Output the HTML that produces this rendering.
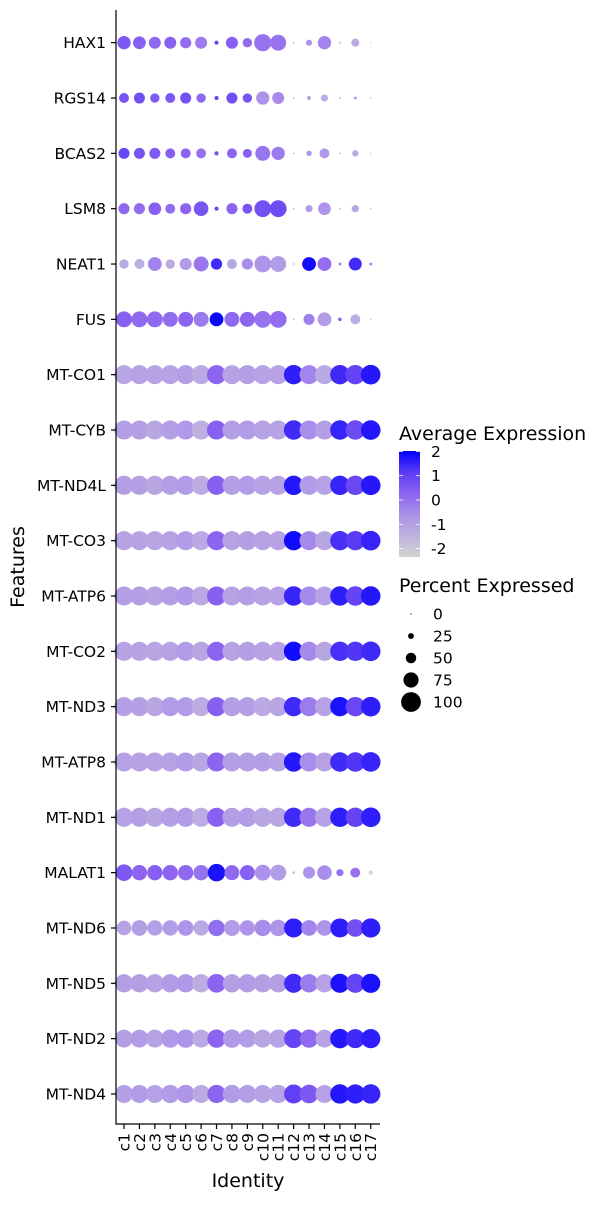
<!DOCTYPE html>
<html><head><meta charset="utf-8"><style>
body{margin:0;background:#fff}
svg text{font-family:"DejaVu Sans","Liberation Sans",sans-serif}
</style></head><body>
<svg id="chart" width="600" height="1200" viewBox="0 0 600 1200" xmlns="http://www.w3.org/2000/svg">
<defs><linearGradient id="cg" x1="0" y1="1" x2="0" y2="0">
<stop offset="0" stop-color="#d3d3d3"/><stop offset="0.4" stop-color="#aa91e8"/><stop offset="0.6" stop-color="#8c64f0"/><stop offset="0.8" stop-color="#5a3cf5"/><stop offset="1" stop-color="#0000ff"/></linearGradient></defs>
<g id="dots"></g>
<line x1="116" y1="10" x2="116" y2="1124.5" stroke="#000" stroke-width="1.2"/>
<line x1="115.5" y1="1124" x2="380" y2="1124" stroke="#000" stroke-width="1.2"/>
<g id="yticks"></g>
<g id="xticks"></g>
<text transform="translate(24,567) rotate(-90)" text-anchor="middle" font-size="19">Features</text>
<text x="248" y="1187" text-anchor="middle" font-size="19">Identity</text>
<g>
<text x="399" y="440" font-size="19">Average Expression</text>
<rect x="399" y="451" width="21" height="106" fill="url(#cg)"/>
<g id="cticks"></g>
</g>
<g>
<text x="399" y="592" font-size="19">Percent Expressed</text>
<g id="sizes"></g>
</g>
</svg>
<script>
const features=["HAX1","RGS14","BCAS2","LSM8","NEAT1","FUS","MT-CO1","MT-CYB","MT-ND4L","MT-CO3","MT-ATP6","MT-CO2","MT-ND3","MT-ATP8","MT-ND1","MALAT1","MT-ND6","MT-ND5","MT-ND2","MT-ND4"];
const clusters=["c1","c2","c3","c4","c5","c6","c7","c8","c9","c10","c11","c12","c13","c14","c15","c16","c17"];
const pctExpr=[
[65,62,58,58,54,58,16,58,44,86,79,2,26,65,2,37,0],
[47,53,44,47,53,44,16,53,44,65,58,2,16,32,2,10,0],
[53,53,53,47,47,47,16,47,42,74,65,2,23,47,2,28,0],
[53,53,62,47,54,72,16,53,47,84,84,2,32,62,2,33,0],
[44,47,68,44,58,74,54,47,54,84,79,2,68,68,10,63,9],
[79,79,79,74,74,74,68,74,74,84,84,2,53,68,12,47,0],
[96,96,96,96,96,96,96,96,96,96,96,98,96,96,98,98,99],
[96,96,96,96,96,96,96,96,96,96,96,98,96,96,98,98,99],
[96,96,96,96,96,96,96,96,96,96,96,98,96,96,98,98,99],
[96,96,96,96,96,96,96,96,96,96,96,98,96,96,98,98,99],
[96,96,96,96,96,96,96,96,96,96,96,98,96,96,98,98,99],
[96,96,96,96,96,96,96,96,96,96,96,98,96,96,98,98,99],
[96,96,96,96,96,96,96,96,96,96,96,98,96,96,98,98,99],
[96,96,96,96,96,96,96,96,96,96,96,98,96,96,98,98,99],
[96,96,96,96,96,96,96,96,96,96,96,98,96,96,98,98,99],
[83,76,76,76,76,76,88,74,74,79,79,9,58,72,32,47,16],
[72,78,76,76,78,76,82,80,76,82,82,96,78,78,96,88,97],
[92,92,92,92,92,92,94,92,92,92,92,96,92,92,96,96,97],
[90,90,90,92,92,90,92,92,90,90,92,96,92,90,98,96,97],
[90,90,90,92,92,90,92,92,90,90,92,96,94,90,98,97,98]];
const avgExpr=[
[0.8,0.6,0.4,0.6,0.3,0.0,1.2,0.6,0.4,0.2,0.2,-1,-0.5,-0.2,-0.5,-1.2,-1.5],
[0.9,1.0,0.7,0.8,1.0,0.4,1.3,1.0,0.9,-0.5,-0.3,-1,-1,-1.2,-0.5,-1,-1],
[1.2,0.9,0.8,0.6,0.5,0.2,1.0,0.5,0.6,0.1,0.0,-1,-0.6,-0.7,-1,-1.3,-1.5],
[0.4,0.3,0.6,0.3,0.5,0.9,1.2,0.5,0.9,1.0,1.1,-1,-0.8,-0.6,-1,-1.2,-1.2],
[-1.2,-1.3,-0.2,-1.2,-0.8,0.1,1.8,-1.1,-0.4,-0.6,-0.8,-1,2.3,0.3,-0.2,1.8,-0.2],
[0.6,0.4,0.4,0.3,0.5,0.0,2.4,0.4,0.5,0.2,0.3,-1,-0.1,-0.8,0.8,-1.3,-1.5],
[-1.1,-1.0,-1.0,-1.0,-0.9,-1.2,0.5,-1.0,-0.9,-1.0,-1.0,2.0,-0.2,-1.2,1.8,1.3,2.1],
[-0.9,-0.9,-1.1,-0.9,-0.7,-1.4,0.6,-0.9,-0.8,-1.0,-1.0,1.8,-0.4,-0.9,1.9,1.1,2.1],
[-0.9,-0.9,-1.1,-0.9,-0.8,-1.3,0.6,-0.9,-0.8,-1.0,-1.0,2.1,-0.8,-1.0,1.9,1.2,2.1],
[-1.0,-1.0,-1.1,-1.0,-0.8,-1.2,0.5,-1.0,-0.9,-1.0,-1.0,2.3,-0.3,-1.1,1.7,1.5,1.9],
[-0.9,-0.9,-1.0,-0.9,-0.7,-1.2,0.6,-1.0,-0.9,-1.0,-1.0,1.9,-0.3,-1.0,2.0,1.3,2.1],
[-1.0,-1.0,-1.1,-1.0,-0.8,-1.1,0.5,-1.0,-0.9,-1.0,-1.0,2.3,-0.3,-1.1,1.7,1.6,1.8],
[-0.9,-0.9,-1.1,-0.8,-0.8,-1.3,0.6,-0.9,-0.9,-1.2,-1.1,1.8,0.0,-1.0,2.2,1.2,2.0],
[-1.0,-1.0,-1.0,-1.0,-0.8,-1.1,0.5,-0.9,-0.9,-0.9,-1.0,2.1,-0.4,-1.0,1.8,1.6,1.9],
[-1.0,-0.9,-1.1,-0.9,-0.8,-1.3,0.6,-0.9,-0.8,-1.1,-1.1,1.8,0.1,-1.0,2.0,1.3,2.0],
[0.8,0.5,0.6,0.5,0.4,0.2,2.2,0.4,0.6,-0.5,-0.8,-2.2,-0.6,-0.4,0.2,0.2,-2.5],
[-1.0,-0.9,-0.9,-0.8,-0.6,-1.2,0.3,-0.8,-0.6,-0.4,-0.6,2.0,-0.2,-0.6,2.0,1.0,2.0],
[-0.9,-0.9,-1.0,-0.8,-0.7,-1.3,0.5,-0.9,-0.8,-0.9,-0.9,1.8,0.0,-1.0,2.2,1.3,2.2],
[-0.9,-0.8,-1.0,-0.7,-0.6,-1.2,0.5,-0.7,-0.8,-1.1,-1.0,1.3,0.4,-1.0,2.1,1.8,2.0],
[-0.9,-0.8,-1.0,-0.8,-0.6,-1.2,0.5,-0.8,-0.9,-1.0,-1.0,1.4,0.8,-1.0,2.1,2.0,1.9]];
const colorTicks=[2,1,0,-1,-2];
const sizeTicks=[0,25,50,75,100];
const NS="http://www.w3.org/2000/svg";
function xPos(i){return 124+i*15.42;}
function yPos(j){return 42.7+j*55.33;}
function rad(p){return 0.6+p*0.093;}
function cy(v){return 500-v*24.3;}
const stops=[[0,[211,211,211]],[0.4,[172,146,234]],[0.6,[140,100,240]],[0.8,[90,60,245]],[1,[0,0,255]]];
function col(v){let t=(Math.max(-2.5,Math.min(2.5,v))+2.5)/5;
 for(let k=1;k<stops.length;k++){if(t<=stops[k][0]){const a=stops[k-1],b=stops[k];const u=(t-a[0])/(b[0]-a[0]);
 return 'rgb('+a[1].map((c,i)=>Math.round(c+(b[1][i]-c)*u)).join(',')+')';}}return 'rgb(0,0,255)';}
function mk(tag,attrs,parent,txt){const e=document.createElementNS(NS,tag);for(const k in attrs)e.setAttribute(k,attrs[k]);if(txt!==undefined)e.textContent=txt;parent.appendChild(e);return e;}
const dots=document.getElementById('dots');
features.forEach((f,j)=>{clusters.forEach((c,i)=>{
 const e=mk('circle',{cx:xPos(i),cy:yPos(j),r:rad(pctExpr[j][i]),fill:col(avgExpr[j][i])},dots);
 
 
});});
const yt=document.getElementById('yticks');
features.forEach((f,j)=>{
 const l=mk('line',{x1:111,x2:116,y1:yPos(j),y2:yPos(j),stroke:'#000','stroke-width':1.2},yt);
 
 
 const t=mk('text',{x:106,y:yPos(j)+5.5,'text-anchor':'end','font-size':15.5},yt,f);
 
 
});
const xt=document.getElementById('xticks');
clusters.forEach((c,i)=>{
 const l=mk('line',{x1:xPos(i),x2:xPos(i),y1:1124,y2:1129,stroke:'#000','stroke-width':1.2},xt);
 
 
 const t=mk('text',{transform:'translate('+(xPos(i)+5.5)+',1133) rotate(-90)','text-anchor':'end','font-size':15.5},xt,c);
 
 
});
const ct=document.getElementById('cticks');
colorTicks.forEach(v=>{
 const l=mk('line',{x1:399,x2:403,y1:cy(v),y2:cy(v),stroke:'#fff','stroke-width':0.8},ct);
 
 
 const l2=mk('line',{x1:416,x2:420,y1:cy(v),y2:cy(v),stroke:'#fff','stroke-width':0.8},ct);
 
 
 const t=mk('text',{x:431,y:cy(v)+5.5,'font-size':15.5},ct,String(v));
 
 
});
const sz=document.getElementById('sizes');
sizeTicks.forEach((p,k)=>{const y=614+k*22;
 const c=mk('circle',{cx:411,cy:y,r:rad(p),fill:'#000'},sz);
 
 
 const t=mk('text',{x:433,y:y+5.5,'font-size':15.5},sz,String(p));
 
 
});
</script>
</body></html>
